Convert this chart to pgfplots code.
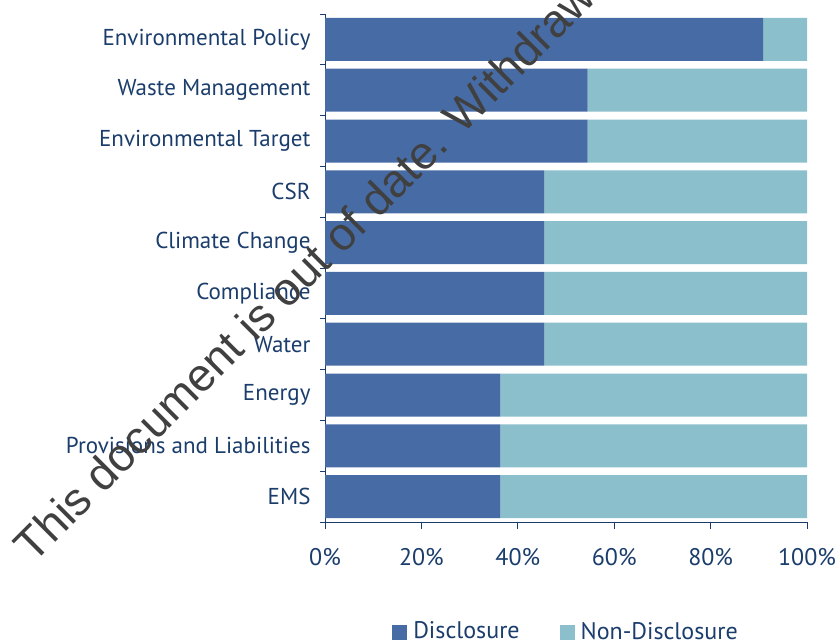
\documentclass[border=0pt]{standalone}
\usepackage{fontspec}
\setmainfont{PT Sans}
\newfontfamily\wmfont{Liberation Sans}
\usepackage{pgfplots}
\pgfplotsset{compat=1.18}
\definecolor{disc}{RGB}{71,108,165}
\definecolor{nondisc}{RGB}{139,191,204}
\definecolor{txt}{RGB}{27,61,108}
\definecolor{wm}{RGB}{64,64,64}
\begin{document}
\begin{tikzpicture}[x=1pt,y=1pt]
\begin{axis}[
  at={(325pt,119pt)}, anchor=south west,
  width=482pt, height=508pt, scale only axis,
  xbar stacked, bar width=43pt,
  xmin=0, xmax=100, ymin=-0.5, ymax=9.5,
  axis x line*=bottom, axis y line*=left,
  axis line style={txt, line width=0.8pt, -},
  tick align=outside,
  major tick length=7pt, minor tick length=5pt,
  xtick={0,20,...,100},
  xticklabel={\pgfmathprintnumber{\tick}\%},
  /pgf/number format/assume math mode=true,
  ytick={0,...,9},
  yticklabels={EMS, Provisions and Liabilities, Energy, Water, Compliance, Climate Change, CSR, Environmental Target, Waste Management, Environmental Policy},
  minor ytick={-0.5,0.5,...,9.5},
  major y tick style={draw=none},
  minor y tick style={txt, line width=0.8pt},
  x tick style={txt, line width=0.8pt},
  tick label style={text=txt},
  yticklabel style={font=\fontsize{23}{27}\selectfont, xshift=-4pt},
  xticklabel style={font=\fontsize{24}{28}\selectfont, yshift=-16pt},
  legend style={at={(0.5,-0.215)}, anchor=center, draw=none, legend columns=2,
    font=\fontsize{24}{28}\selectfont, text=txt,
    /tikz/every odd column/.append style={column sep=4pt},
    /tikz/every even column/.append style={column sep=38pt}},
  legend image code/.code={\fill[#1] (0pt,-9pt) rectangle (15pt,6pt);},
]
\addplot[fill=disc, draw=none] coordinates {
(36.4,0) (36.4,1) (36.4,2) (45.5,3) (45.5,4) (45.5,5) (45.5,6) (54.5,7) (54.5,8) (90.9,9)};
\addlegendentry{Disclosure}
\addplot[fill=nondisc, draw=none] coordinates {
(63.6,0) (63.6,1) (63.6,2) (54.5,3) (54.5,4) (54.5,5) (54.5,6) (45.5,7) (45.5,8) (9.1,9)};
\addlegendentry{Non-Disclosure}
\end{axis}
\node[rotate=45, anchor=base west, inner sep=0pt, font=\wmfont\fontsize{46}{46}\selectfont, text=wm] at (33,76) {This document is out of date. Withdrawn};
\pgfresetboundingbox
\useasboundingbox (0,0) rectangle (840,641);
\end{tikzpicture}
\end{document}
